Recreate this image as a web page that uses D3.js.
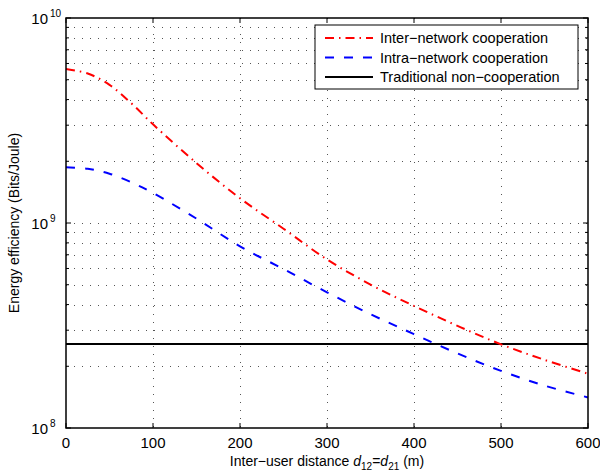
<!DOCTYPE html>
<html>
<head>
<meta charset="utf-8">
<script src="https://cdn.jsdelivr.net/npm/d3@7"></script>
<style>
  body { margin: 0; background: #fff; }
  text { font-family: "Liberation Sans", Arial, Helvetica, sans-serif; fill: #000; }
</style>
</head>
<body>
<svg id="chart" width="600" height="474"></svg>
<script>
// distances (m)
const distances = [0, 25, 50, 75, 100, 150, 200, 250, 300, 350, 400, 450, 500, 550, 600];
// energy efficiency (Bits/Joule)
const interNetwork = [5.64e9, 5.36e9, 4.72e9, 3.84e9, 3.03e9, 1.96e9, 1.32e9, 9.38e8, 6.64e8, 5.01e8, 3.94e8, 3.15e8, 2.56e8, 2.15e8, 1.84e8];
const intraNetwork = [1.87e9, 1.84e9, 1.74e9, 1.58e9, 1.40e9, 1.05e9, 7.69e8, 5.96e8, 4.59e8, 3.59e8, 2.87e8, 2.31e8, 1.90e8, 1.61e8, 1.41e8];
const traditional = [2.57e8, 2.57e8];
const traditionalX = [0, 600];

const xTicks = [0, 100, 200, 300, 400, 500, 600];
const yMajor = [1e8, 1e9, 1e10];
const yExponents = ["8", "9", "10"];
const legendLabels = ["Inter\u2212network cooperation", "Intra\u2212network cooperation", "Traditional non\u2212cooperation"];

const margin = {top: 18, right: 12, bottom: 46, left: 66};
const width = 600 - margin.left - margin.right;
const height = 474 - margin.top - margin.bottom;

const svg = d3.select("#chart");
const g = svg.append("g").attr("transform", "translate(" + margin.left + "," + margin.top + ")");

const x = d3.scaleLinear().domain([0, 600]).range([0, width]);
const y = d3.scaleLog().domain([1e8, 1e10]).range([height, 0]);

// minor values for log grid
const yMinor = [];
[1e8, 1e9].forEach(function(b) { for (let k = 2; k <= 9; k++) yMinor.push(b * k); });

// grid
const grid = g.append("g").attr("stroke", "#555").attr("stroke-width", 1).attr("stroke-dasharray", "1,7");
grid.selectAll(".vg").data(xTicks.slice(1, -1)).enter().append("line")
  .attr("x1", d => Math.round(x(d)) + 0.5).attr("x2", d => Math.round(x(d)) + 0.5)
  .attr("y1", 0).attr("y2", height);
grid.selectAll(".hg").data(yMinor.concat([1e9])).enter().append("line")
  .attr("y1", d => Math.round(y(d)) + 0.5).attr("y2", d => Math.round(y(d)) + 0.5)
  .attr("x1", 0).attr("x2", width);

// series
const line = d3.line().x(d => x(d[0])).y(d => y(d[1])).curve(d3.curveCatmullRom.alpha(0.5));

g.append("path")
  .datum(traditionalX.map((d, i) => [d, traditional[i]]))
  .attr("d", line).attr("fill", "none").attr("stroke", "#000").attr("stroke-width", 2);

g.append("path")
  .datum(distances.map((d, i) => [d, intraNetwork[i]]))
  .attr("d", line).attr("fill", "none").attr("stroke", "#0000ff").attr("stroke-width", 2)
  .attr("stroke-dasharray", "9,10");

g.append("path")
  .datum(distances.map((d, i) => [d, interNetwork[i]]))
  .attr("d", line).attr("fill", "none").attr("stroke", "#ff0000").attr("stroke-width", 2)
  .attr("stroke-dasharray", "9,5,1.5,5");

// axes box
g.append("rect").attr("x", 0).attr("y", 0).attr("width", width).attr("height", height)
  .attr("fill", "none").attr("stroke", "#000").attr("stroke-width", 1.5);

// ticks (inward, on all four sides)
const tk = g.append("g").attr("stroke", "#000").attr("stroke-width", 1);
xTicks.forEach(function(t) {
  tk.append("line").attr("x1", x(t)).attr("x2", x(t)).attr("y1", height).attr("y2", height - 5);
  tk.append("line").attr("x1", x(t)).attr("x2", x(t)).attr("y1", 0).attr("y2", 5);
});
yMajor.forEach(function(t) {
  tk.append("line").attr("y1", y(t)).attr("y2", y(t)).attr("x1", 0).attr("x2", 5);
  tk.append("line").attr("y1", y(t)).attr("y2", y(t)).attr("x1", width).attr("x2", width - 5);
});
yMinor.forEach(function(t) {
  tk.append("line").attr("y1", y(t)).attr("y2", y(t)).attr("x1", 0).attr("x2", 3);
  tk.append("line").attr("y1", y(t)).attr("y2", y(t)).attr("x1", width).attr("x2", width - 3);
});

// x tick labels
g.selectAll(".xl").data(xTicks).enter().append("text")
  .attr("x", d => x(d)).attr("y", height + 20)
  .attr("text-anchor", "middle").attr("font-size", 15)
  .text(d => d);

// y tick labels with superscripts
yMajor.forEach(function(t, i) {
  g.append("text").attr("x", -18).attr("y", y(t) + 6)
    .attr("text-anchor", "end").attr("font-size", 15).text("10");
  g.append("text").attr("x", -16).attr("y", y(t) - 1)
    .attr("font-size", 10).text(yExponents[i]);
});

// axis labels
const xl = svg.append("text").attr("x", margin.left + width / 2).attr("y", 466)
  .attr("text-anchor", "middle").attr("font-size", 14);
xl.append("tspan").text("Inter\u2212user distance ");
xl.append("tspan").attr("font-style", "italic").text("d");
xl.append("tspan").attr("font-size", 10).attr("dy", 4).text("12");
xl.append("tspan").attr("dy", -4).text("=");
xl.append("tspan").attr("font-style", "italic").text("d");
xl.append("tspan").attr("font-size", 10).attr("dy", 4).text("21");
xl.append("tspan").attr("dy", -4).text(" (m)");

svg.append("text")
  .attr("transform", "translate(19," + (margin.top + height / 2) + ") rotate(-90)")
  .attr("text-anchor", "middle").attr("font-size", 14)
  .text("Energy efficiency (Bits/Joule)");

// legend
const lg = svg.append("g").attr("transform", "translate(315,25)");
lg.append("rect").attr("width", 263).attr("height", 64)
  .attr("fill", "#fff").attr("stroke", "#000").attr("stroke-width", 1);
const legendStyles = [
  {color: "#ff0000", dash: "9,5,1.5,5"},
  {color: "#0000ff", dash: "9,10"},
  {color: "#000", dash: null}
];
legendLabels.forEach(function(lab, i) {
  const yy = 13 + i * 19.5;
  lg.append("line").attr("x1", 10).attr("x2", 58).attr("y1", yy).attr("y2", yy)
    .attr("stroke", legendStyles[i].color).attr("stroke-width", 2)
    .attr("stroke-dasharray", legendStyles[i].dash);
  lg.append("text").attr("x", 65).attr("y", yy + 5).attr("font-size", 14.5).text(lab);
});
</script>
</body>
</html>
